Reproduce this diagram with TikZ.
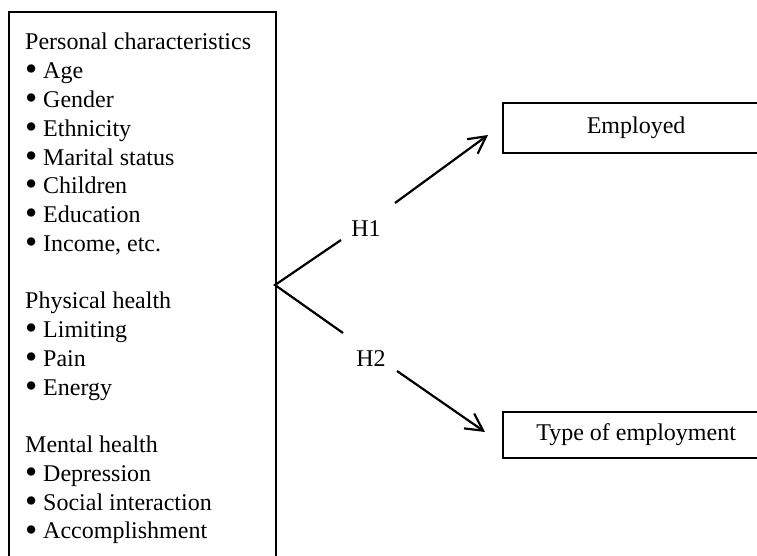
\documentclass[tikz,border=0pt]{standalone}
\usepackage{fontspec}
\setmainfont{Liberation Serif}
\usetikzlibrary{arrows.meta,calc}
\newcommand\mybul{\makebox[18pt][l]{\raisebox{-2.2pt}{\scalebox{1.45}{\textbullet}}}}
\begin{document}
\begin{tikzpicture}[x=1pt,y=-1pt,
  frame/.style={draw, line width=2.3pt, inner sep=0pt},
  conn/.style={line width=2.2pt},
  arr/.style={line width=2.2pt, -{Straight Barb[length=17pt,width=18pt]}},
  lbl/.style={font=\fontsize{24}{28.76}\selectfont, inner sep=0pt}]
\useasboundingbox (0,0) rectangle (757,556);
\clip (0,0) rectangle (757,556);
\fill[white] (0,0) rectangle (757,556);
% left box
\node (left) [frame, anchor=north west, minimum width=267pt, minimum height=580pt] at (8,11) {};
\node (list) [lbl, anchor=base west] at (25,50) {%
\begin{tabular}[t]{@{}l@{}}
Personal characteristics\\
\mybul Age\\
\mybul Gender\\
\mybul Ethnicity\\
\mybul Marital status\\
\mybul Children\\
\mybul Education\\
\mybul Income, etc.\\
\\
Physical health\\
\mybul Limiting\\
\mybul Pain\\
\mybul Energy\\
\\
Mental health\\
\mybul Depression\\
\mybul Social interaction\\
\mybul Accomplishment
\end{tabular}};
% right boxes
\node (emp) [frame, anchor=west, minimum width=266pt, minimum height=50pt] at (502,128) {};
\node (empt) [lbl] at (emp.center) {Employed};
\node (typ) [frame, anchor=west, minimum width=266pt, minimum height=46pt] at (502,435) {};
\node (typt) [lbl] at (typ.center) {Type of employment};
% connectors
\coordinate (apex) at (275,285);
\coordinate (u1) at (341,240);
\coordinate (u2) at (395,203);
\coordinate (ut) at (488,135);
\coordinate (d1) at (343,333);
\coordinate (d2) at (397,371);
\coordinate (dt) at (485,432);
\node (h1) [lbl] at (366,229) {H1};
\node (h2) [lbl] at (371,359) {H2};
\draw[conn] (u1) -- (apex) -- (d1);
\draw[arr] (u2) -- (ut);
\draw[arr] (d2) -- (dt);
\end{tikzpicture}
\end{document}
